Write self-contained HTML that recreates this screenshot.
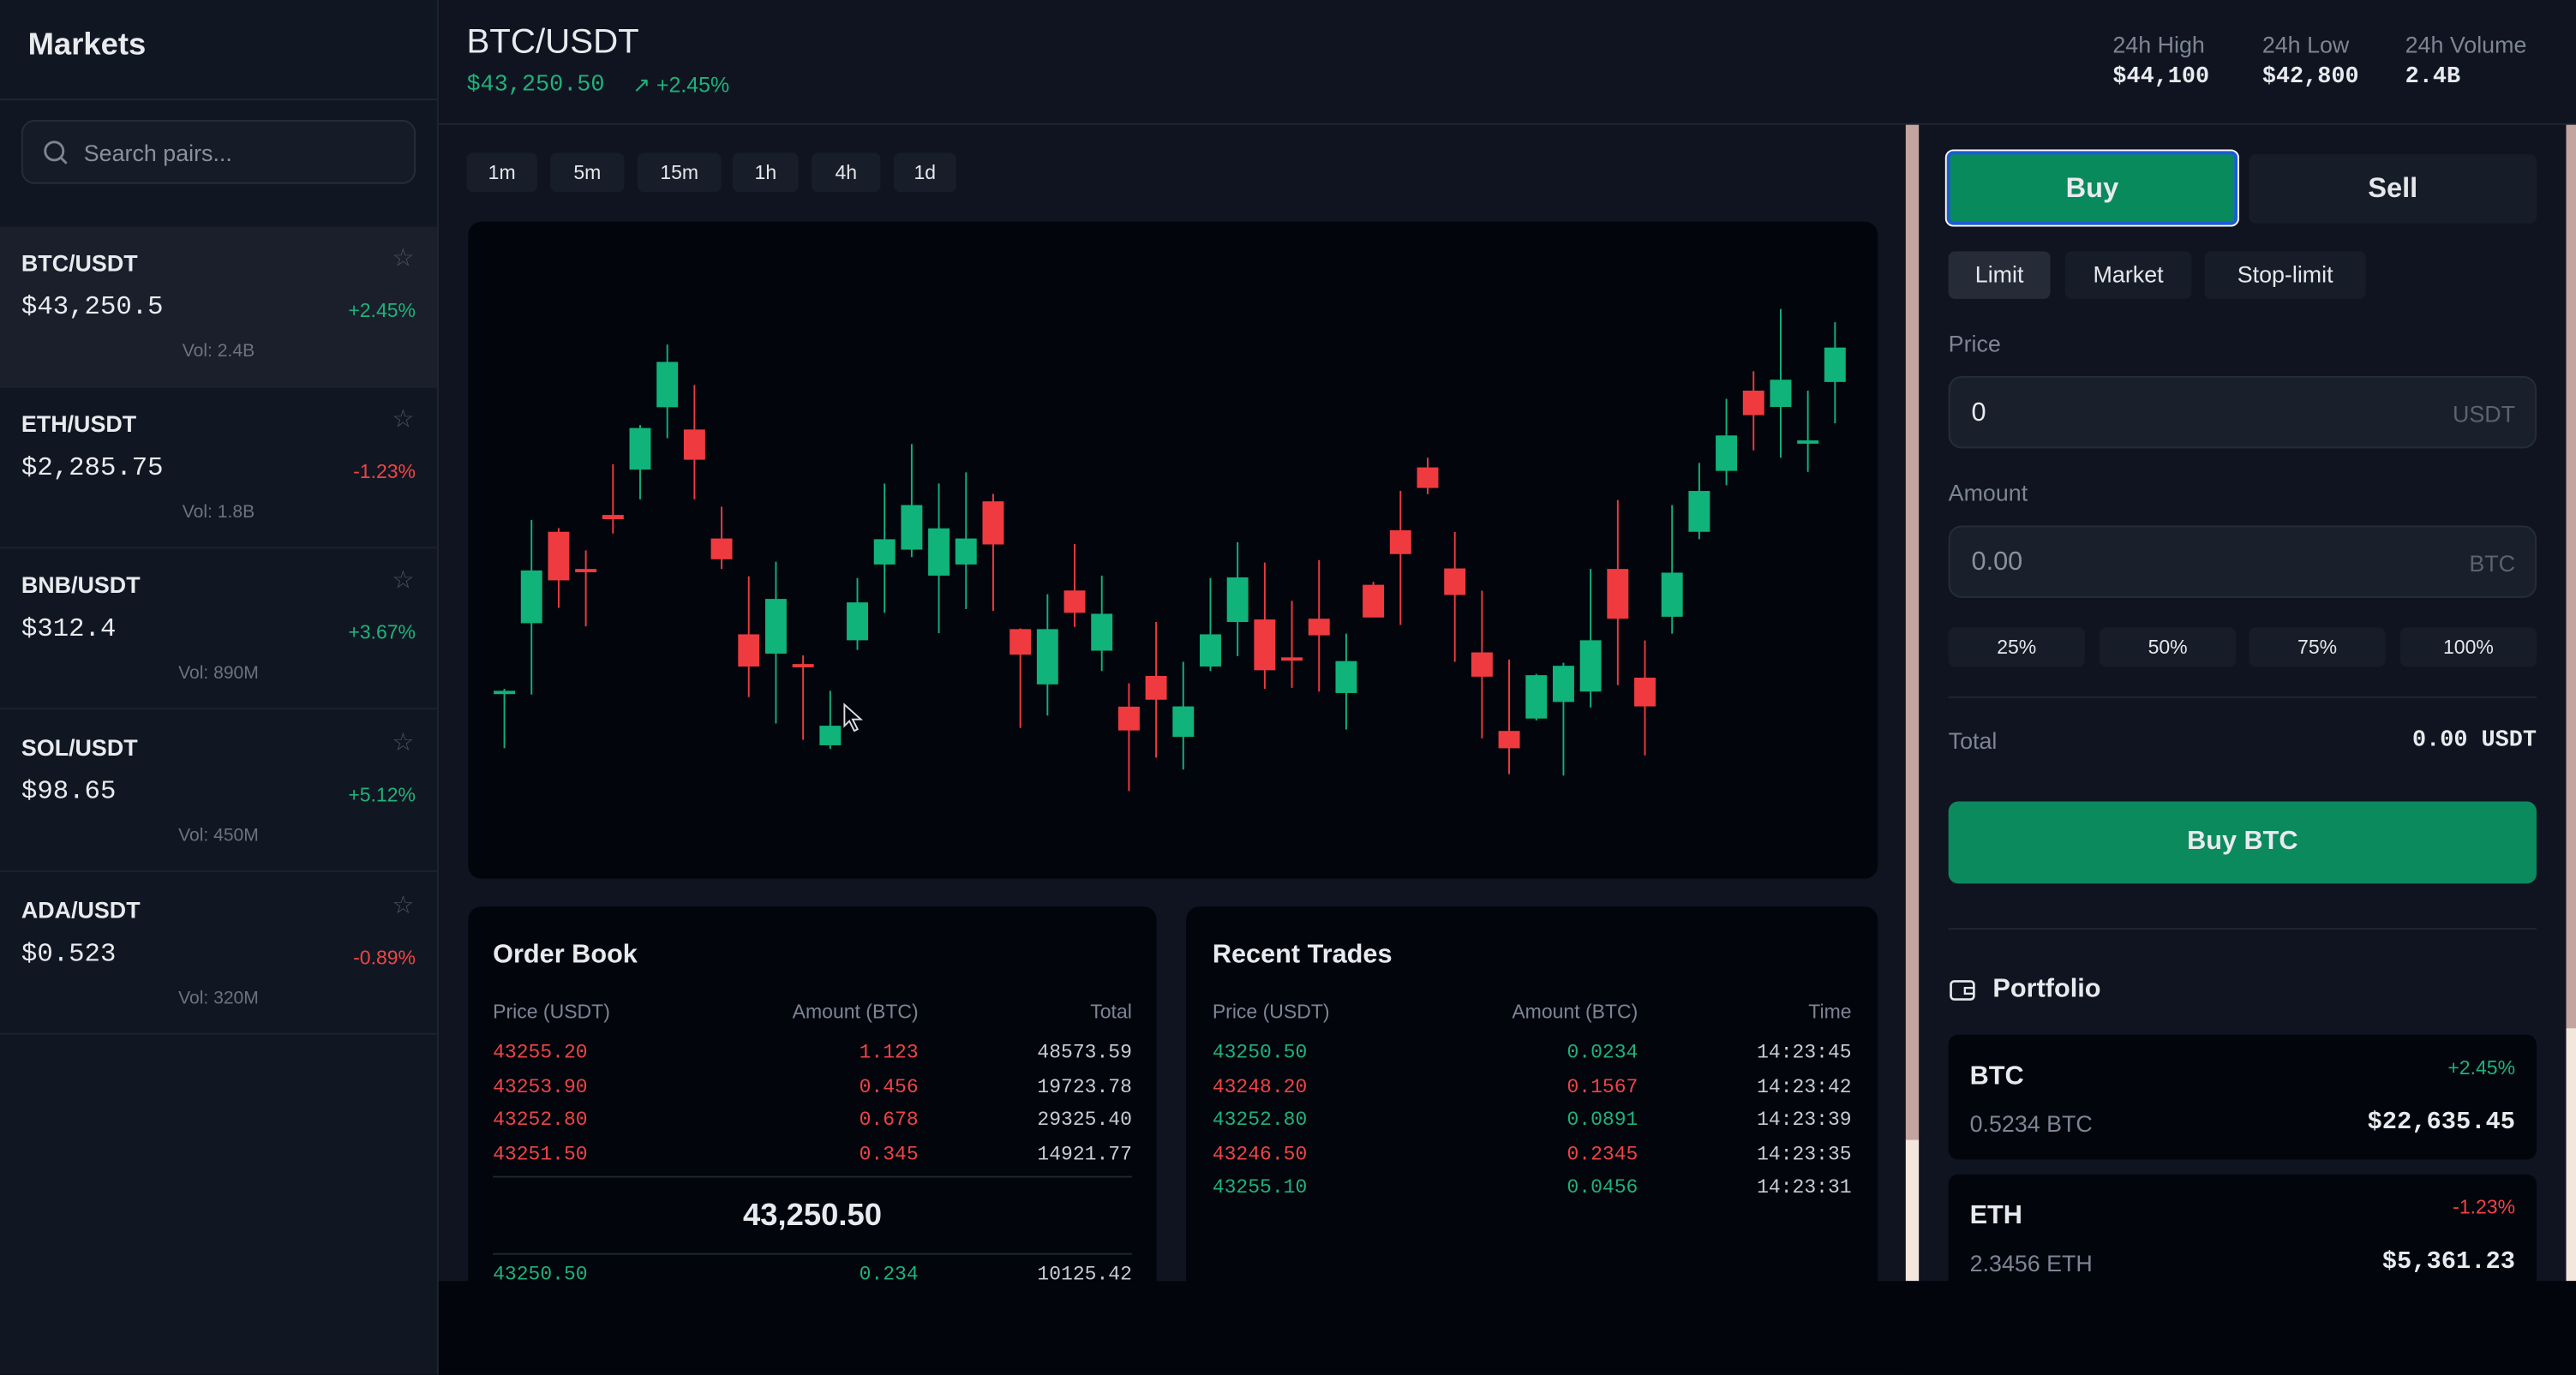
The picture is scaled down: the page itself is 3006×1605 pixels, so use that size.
<!DOCTYPE html>
<html><head><meta charset="utf-8">
<style>
*{box-sizing:border-box;margin:0;padding:0}
html,body{width:3006px;height:1604px;overflow:hidden;background:#03050c}
#root{position:absolute;left:0;top:0;width:1568px;height:837px;transform:scale(1.91709);transform-origin:0 0;background:#0f1420;font-family:"Liberation Sans",sans-serif;color:#e8eaee}
.abs{position:absolute}
.mono{font-family:"Liberation Mono",monospace}
.g{color:#1fb27a}.r{color:#ef4444}.mut{color:#7d8594}
.sb{left:0;top:0;width:267px;height:837px;background:#111722;border-right:1px solid #1f2633}
.row{position:absolute;left:0;width:266px;height:98px;border-bottom:1px solid #1c2330}
.row .pair{position:absolute;left:13px;top:14px;font-size:14px;font-weight:bold}
.row .price{position:absolute;left:13px;top:40px;font-size:16px;font-family:"Liberation Mono",monospace}
.row .chg{position:absolute;right:13px;top:44px;font-size:12px}
.row .vol{position:absolute;left:0;width:266px;text-align:center;top:70px;font-size:11px;color:#6b7280}
.row .star{position:absolute;right:14px;top:10px;font-size:15px;color:#4b5260}
.tf{position:absolute;top:93px;height:24px;background:#171d29;border-radius:4px;font-size:12px;text-align:center;line-height:24px;color:#e5e7eb}
.panel{position:absolute;background:#03050d;border-radius:8px}
.tbl{position:absolute;font-size:12px}
.btn2{position:absolute;background:#1a202b;border-radius:4px;text-align:center;color:#e5e7eb}
</style></head><body>
<div id="root">
 <div class="abs sb">
  <div class="abs" style="left:17px;top:17px;font-size:19px;font-weight:bold">Markets</div>
  <div class="abs" style="left:0;top:60px;width:266px;border-top:1px solid #1f2633"></div>
  <div class="abs" style="left:13px;top:73px;width:240px;height:39px;background:#161c27;border:1px solid #262d3a;border-radius:8px">
   <svg class="abs" style="left:12px;top:11px" width="16" height="16"><circle cx="7" cy="7" r="5.5" fill="none" stroke="#7d8594" stroke-width="1.5"/><line x1="11" y1="11" x2="14.5" y2="14.5" stroke="#7d8594" stroke-width="1.5"/></svg>
   <div class="abs" style="left:37px;top:11px;font-size:14px;color:#8a909c">Search pairs...</div>
  </div>
  <div class="row" style="top:138px;background:#1a1f2b"><div class="pair">BTC/USDT</div><div class="star">☆</div><div class="price">$43,250.5</div><div class="chg g">+2.45%</div><div class="vol">Vol: 2.4B</div></div>
  <div class="row" style="top:236px"><div class="pair">ETH/USDT</div><div class="star">☆</div><div class="price">$2,285.75</div><div class="chg r">-1.23%</div><div class="vol">Vol: 1.8B</div></div>
  <div class="row" style="top:334px"><div class="pair">BNB/USDT</div><div class="star">☆</div><div class="price">$312.4</div><div class="chg g">+3.67%</div><div class="vol">Vol: 890M</div></div>
  <div class="row" style="top:433px"><div class="pair">SOL/USDT</div><div class="star">☆</div><div class="price">$98.65</div><div class="chg g">+5.12%</div><div class="vol">Vol: 450M</div></div>
  <div class="row" style="top:532px"><div class="pair">ADA/USDT</div><div class="star">☆</div><div class="price">$0.523</div><div class="chg r">-0.89%</div><div class="vol">Vol: 320M</div></div>
 </div>

 <div class="abs" style="left:267px;top:0;width:1301px;height:76px;border-bottom:1px solid #1f2633;background:#0f1420">
  <div class="abs" style="left:17px;top:14px;font-size:21px">BTC/USDT</div>
  <div class="abs mono g" style="left:17px;top:44px;font-size:14px">$43,250.50</div>
  <div class="abs g" style="left:118px;top:44px;font-size:13px">↗ +2.45%</div>
  <div class="abs mut" style="left:1019px;top:19px;font-size:14px">24h High</div>
  <div class="abs mono" style="left:1019px;top:39px;font-size:14px;font-weight:bold">$44,100</div>
  <div class="abs mut" style="left:1110px;top:19px;font-size:14px">24h Low</div>
  <div class="abs mono" style="left:1110px;top:39px;font-size:14px;font-weight:bold">$42,800</div>
  <div class="abs mut" style="left:1197px;top:19px;font-size:14px">24h Volume</div>
  <div class="abs mono" style="left:1197px;top:39px;font-size:14px;font-weight:bold">2.4B</div>
 </div>

 <div class="tf" style="left:284px;width:43px">1m</div>
 <div class="tf" style="left:335px;width:45px">5m</div>
 <div class="tf" style="left:388px;width:51px">15m</div>
 <div class="tf" style="left:446px;width:40px">1h</div>
 <div class="tf" style="left:494px;width:42px">4h</div>
 <div class="tf" style="left:544px;width:38px">1d</div>

 <div class="panel" style="left:285px;top:135px;width:858px;height:400px">
  <svg id="chart" width="858" height="400" style="position:absolute;left:0;top:0"></svg>
  <svg class="abs" style="left:228px;top:293px" width="14" height="20"><path d="M1 1 L1 14 L4 11 L7 17 L9 16 L6 10 L11 10 Z" fill="#03050d" stroke="#ddd" stroke-width="1"/></svg>
 </div>

 <div class="panel" style="left:285px;top:552px;width:419px;height:240px;border-radius:8px 8px 0 0">
  <div class="abs" style="left:15px;top:21px;font-size:16px;font-weight:bold">Order Book</div>
  <div class="tbl mut" style="left:15px;top:57px">Price (USDT)</div><div class="tbl mut" style="right:145px;top:57px">Amount (BTC)</div><div class="tbl mut" style="right:15px;top:57px">Total</div>
  <div class="tbl mono r" style="left:15px;top:82px">43255.20</div><div class="tbl mono r" style="right:145px;top:82px">1.123</div><div class="tbl mono" style="right:15px;top:82px;color:#c9ccd2">48573.59</div>
  <div class="tbl mono r" style="left:15px;top:103px">43253.90</div><div class="tbl mono r" style="right:145px;top:103px">0.456</div><div class="tbl mono" style="right:15px;top:103px;color:#c9ccd2">19723.78</div>
  <div class="tbl mono r" style="left:15px;top:123px">43252.80</div><div class="tbl mono r" style="right:145px;top:123px">0.678</div><div class="tbl mono" style="right:15px;top:123px;color:#c9ccd2">29325.40</div>
  <div class="tbl mono r" style="left:15px;top:144px">43251.50</div><div class="tbl mono r" style="right:145px;top:144px">0.345</div><div class="tbl mono" style="right:15px;top:144px;color:#c9ccd2">14921.77</div>
  <div class="abs" style="left:15px;top:164px;width:389px;border-top:1px solid #1f2633"></div>
  <div class="abs" style="left:0;width:419px;text-align:center;top:178px;font-size:19px;font-weight:bold">43,250.50</div>
  <div class="abs" style="left:15px;top:211px;width:389px;border-top:1px solid #1f2633"></div>
  <div class="tbl mono g" style="left:15px;top:217px">43250.50</div><div class="tbl mono g" style="right:145px;top:217px">0.234</div><div class="tbl mono" style="right:15px;top:217px;color:#c9ccd2">10125.42</div>
 </div>

 <div class="panel" style="left:722px;top:552px;width:421px;height:240px;border-radius:8px 8px 0 0">
  <div class="abs" style="left:16px;top:21px;font-size:16px;font-weight:bold">Recent Trades</div>
  <div class="tbl mut" style="left:16px;top:57px">Price (USDT)</div><div class="tbl mut" style="right:146px;top:57px">Amount (BTC)</div><div class="tbl mut" style="right:16px;top:57px">Time</div>
  <div class="tbl mono g" style="left:16px;top:82px">43250.50</div><div class="tbl mono g" style="right:146px;top:82px">0.0234</div><div class="tbl mono" style="right:16px;top:82px;color:#c9ccd2">14:23:45</div>
  <div class="tbl mono r" style="left:16px;top:103px">43248.20</div><div class="tbl mono r" style="right:146px;top:103px">0.1567</div><div class="tbl mono" style="right:16px;top:103px;color:#c9ccd2">14:23:42</div>
  <div class="tbl mono g" style="left:16px;top:123px">43252.80</div><div class="tbl mono g" style="right:146px;top:123px">0.0891</div><div class="tbl mono" style="right:16px;top:123px;color:#c9ccd2">14:23:39</div>
  <div class="tbl mono r" style="left:16px;top:144px">43246.50</div><div class="tbl mono r" style="right:146px;top:144px">0.2345</div><div class="tbl mono" style="right:16px;top:144px;color:#c9ccd2">14:23:35</div>
  <div class="tbl mono g" style="left:16px;top:164px">43255.10</div><div class="tbl mono g" style="right:146px;top:164px">0.0456</div><div class="tbl mono" style="right:16px;top:164px;color:#c9ccd2">14:23:31</div>
 </div>

 <div class="abs" style="left:1160px;top:76px;width:8px;height:618px;background:#c4a49e"></div>
 <div class="abs" style="left:1160px;top:694px;width:8px;height:86px;background:#f3e6dd"></div>
 <div class="abs" style="left:1562px;top:76px;width:6px;height:550px;background:#c4a49e"></div>
 <div class="abs" style="left:1562px;top:626px;width:6px;height:154px;background:#f3e6dd"></div>
 <div class="abs" style="left:267px;top:780px;width:1301px;height:57px;background:#03050c"></div>

 <div class="abs" style="left:1185px;top:92px;width:177px;height:45px;background:#088a5c;border:2px solid #1d5bd8;outline:1px solid #fff;border-radius:4px;text-align:center;line-height:41px;font-size:17px;font-weight:bold">Buy</div>
 <div class="btn2" style="left:1369px;top:94px;width:175px;height:42px;line-height:42px;font-size:17px;font-weight:bold;background:#171d28">Sell</div>
 <div class="btn2" style="left:1186px;top:153px;width:62px;height:29px;line-height:29px;font-size:14px;background:#252c38">Limit</div>
 <div class="btn2" style="left:1257px;top:153px;width:77px;height:29px;line-height:29px;font-size:14px;background:#171d28">Market</div>
 <div class="btn2" style="left:1342px;top:153px;width:98px;height:29px;line-height:29px;font-size:14px;background:#171d28">Stop-limit</div>
 <div class="abs mut" style="left:1186px;top:201px;font-size:14px">Price</div>
 <div class="abs" style="left:1186px;top:229px;width:358px;height:44px;background:#1a202b;border:1px solid #262d3a;border-radius:8px"><div class="abs" style="left:13px;top:13px;font-size:16px">0</div><div class="abs" style="right:12px;top:14px;font-size:14px;color:#5b6270">USDT</div></div>
 <div class="abs mut" style="left:1186px;top:292px;font-size:14px">Amount</div>
 <div class="abs" style="left:1186px;top:320px;width:358px;height:44px;background:#1a202b;border:1px solid #262d3a;border-radius:8px"><div class="abs" style="left:13px;top:13px;font-size:16px;color:#8a909c">0.00</div><div class="abs" style="right:12px;top:14px;font-size:14px;color:#5b6270">BTC</div></div>
 <div class="btn2" style="left:1186px;top:382px;width:83px;height:24px;line-height:24px;font-size:12px;background:#171d28">25%</div>
 <div class="btn2" style="left:1278px;top:382px;width:83px;height:24px;line-height:24px;font-size:12px;background:#171d28">50%</div>
 <div class="btn2" style="left:1369px;top:382px;width:83px;height:24px;line-height:24px;font-size:12px;background:#171d28">75%</div>
 <div class="btn2" style="left:1461px;top:382px;width:83px;height:24px;line-height:24px;font-size:12px;background:#171d28">100%</div>
 <div class="abs" style="left:1186px;top:424px;width:358px;border-top:1px solid #1f2633"></div>
 <div class="abs mut" style="left:1186px;top:443px;font-size:14px">Total</div>
 <div class="abs mono" style="right:24px;top:443px;font-size:14px;font-weight:bold">0.00 USDT</div>
 <div class="abs" style="left:1186px;top:488px;width:358px;height:50px;background:#0b8a5e;border-radius:6px;text-align:center;line-height:50px;font-size:16px;font-weight:bold">Buy BTC</div>
 <div class="abs" style="left:1186px;top:565px;width:358px;border-top:1px solid #1f2633"></div>
 <svg class="abs" style="left:1186px;top:595px" width="17" height="16"><rect x="1.5" y="2.5" width="14" height="11" rx="2" fill="none" stroke="#e5e7eb" stroke-width="1.4"/><rect x="10" y="6.5" width="5.5" height="3.5" fill="none" stroke="#e5e7eb" stroke-width="1.2"/></svg>
 <div class="abs" style="left:1213px;top:594px;font-size:16px;font-weight:bold">Portfolio</div>
 <div class="abs" style="left:1186px;top:630px;width:358px;height:76px;background:#03050d;border-radius:6px">
  <div class="abs" style="left:13px;top:17px;font-size:16px;font-weight:bold">BTC</div>
  <div class="abs g" style="right:13px;top:13px;font-size:12px">+2.45%</div>
  <div class="abs mut" style="left:13px;top:46px;font-size:14px">0.5234 BTC</div>
  <div class="abs mono" style="right:13px;top:45px;font-size:15px;font-weight:bold">$22,635.45</div>
 </div>
 <div class="abs" style="left:1186px;top:715px;width:358px;height:80px;background:#03050d;border-radius:6px">
  <div class="abs" style="left:13px;top:17px;font-size:16px;font-weight:bold">ETH</div>
  <div class="abs r" style="right:13px;top:13px;font-size:12px">-1.23%</div>
  <div class="abs mut" style="left:13px;top:46px;font-size:14px">2.3456 ETH</div>
  <div class="abs mono" style="right:13px;top:45px;font-size:15px;font-weight:bold">$5,361.23</div>
 </div>
 <div class="abs" style="left:1160px;top:780px;width:408px;height:57px;background:#03050c"></div>
</div>
<script>
const opens=[43110,43383,43752,43602,43820,44003,44255,44165,43725,43338,43260,43218,42890,43314,43620,43680,43575,43620,43875,43359,43136,43515,43272,43046,43170,42924,43208,43388,43398,43245,43401,43101,43538,43758,44012,43604,43265,42948,42998,43065,43107,43602,43163,43409,43752,43998,44322,44256,44109,44357];
const highs=[43118,43800,43767,43677,44025,44183,44508,44345,43853,43572,43631,43253,43110,43565,43947,44106,43947,43992,43905,43362,43500,43703,43575,43140,43388,43227,43565,43710,43628,43473,43638,43341,43550,43917,44051,43751,43514,43236,43178,43223,43602,43880,43313,43860,44030,44289,44400,44652,44322,44598];
const lows=[42878,43095,43445,43370,43745,43883,44130,43883,43602,43085,42978,42912,42875,43275,43425,43650,43343,43440,43433,42960,43010,43368,43190,42705,42840,42792,43190,43250,43118,43122,43107,42954,43406,43376,43904,43227,42918,42773,42990,42768,43043,43133,42849,43341,43722,43940,44081,44051,43994,44190];
const closes=[43110,43596,43556,43590,43803,44171,44438,44043,43641,43208,43481,43205,42969,43467,43722,43860,43766,43725,43701,43256,43359,43425,43421,42950,43074,43047,43338,43568,43193,43241,43334,43230,43406,43662,43929,43497,43167,42878,43173,43211,43314,43401,43047,43587,43917,44141,44223,44366,44121,44496];
const NS='http://www.w3.org/2000/svg';
const svg=document.getElementById('chart');
function xS(i){return 22+i*16.53;}
function yS(p){return 0.6+(45000-p)*0.1508;}
for(let i=0;i<opens.length;i++){
 const up=closes[i]>=opens[i];
 const col=up?'#10b37a':'#ef3b3f';
 const g=document.createElementNS(NS,'g');
 
 
 const w=document.createElementNS(NS,'line');
 w.setAttribute('x1',xS(i));w.setAttribute('x2',xS(i));
 w.setAttribute('y1',yS(highs[i]));w.setAttribute('y2',yS(lows[i]));
 w.setAttribute('stroke',col);w.setAttribute('stroke-width','1');
 g.appendChild(w);
 const b=document.createElementNS(NS,'rect');
 const top=yS(Math.max(opens[i],closes[i])),bot=yS(Math.min(opens[i],closes[i]));
 b.setAttribute('x',xS(i)-6.5);b.setAttribute('width',13);
 b.setAttribute('y',top);b.setAttribute('height',Math.max(bot-top,2));
 b.setAttribute('fill',col);
 g.appendChild(b);
 svg.appendChild(g);
}
</script>
</body></html>
